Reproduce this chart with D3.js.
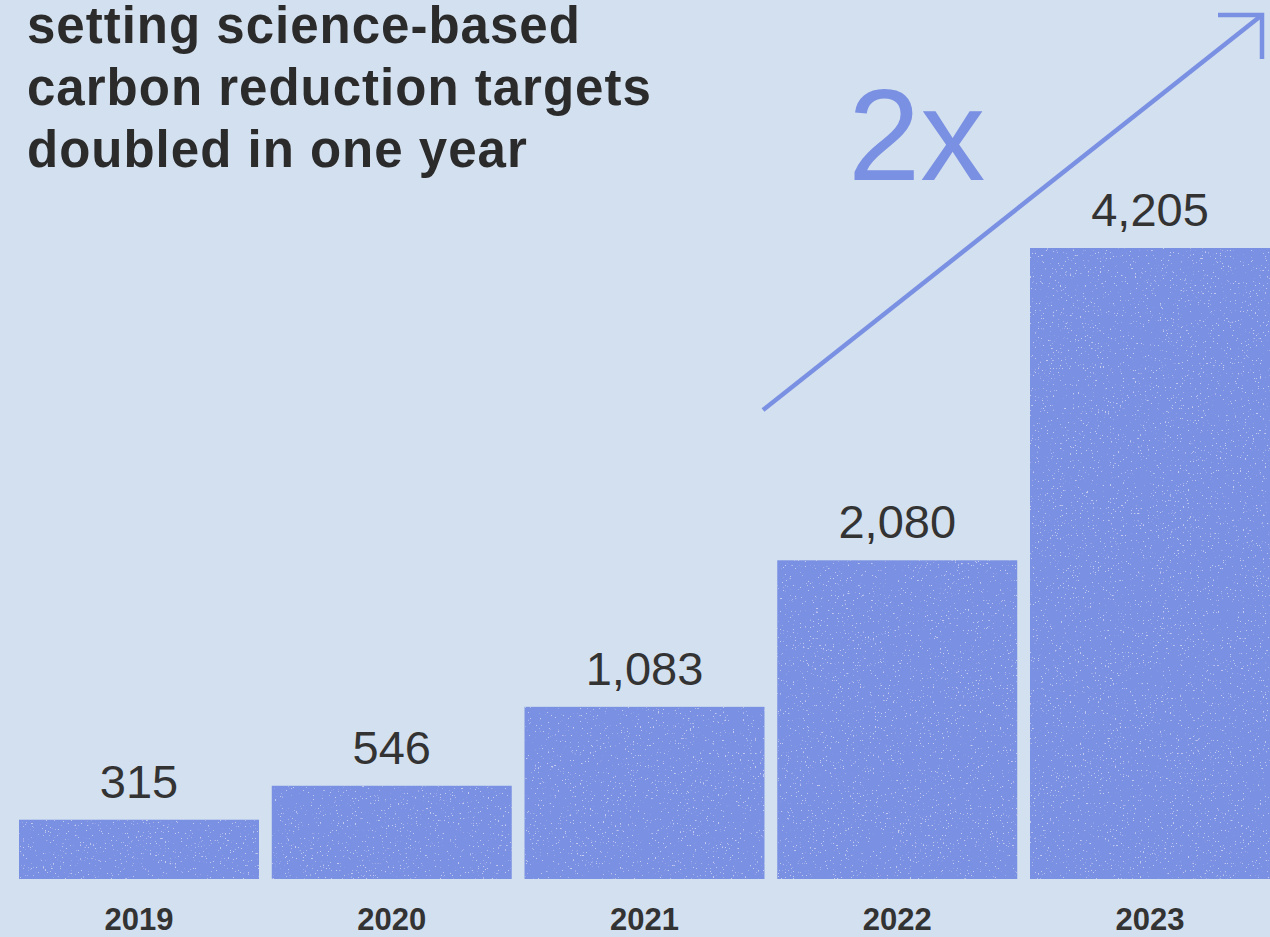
<!DOCTYPE html>
<html>
<head>
<meta charset="utf-8">
<script src="https://cdn.jsdelivr.net/npm/d3@7"></script>
<style>
  body { margin: 0; background: #d3e0ef; }
  svg { display: block; }
</style>
</head>
<body>
<script>
var width = 1270;
var height = 937;

var years = ["2019", "2020", "2021", "2022", "2023"];
var targets = [315, 546, 1083, 2080, 4205];
var titleLines = ["setting science-based", "carbon reduction targets", "doubled in one year"];

var barColor = "#7a90e2";
var baseline = 879;

var svg = d3.select("body").append("svg").attr("width", width).attr("height", height);

svg.append("rect").attr("width", width).attr("height", height).attr("fill", "#d3e0ef");

// speckle texture for bars
var defs = svg.append("defs");
var filter = defs.append("filter").attr("id", "speckle").attr("x", 0).attr("y", 0).attr("width", 1).attr("height", 1);
filter.append("feTurbulence").attr("type", "fractalNoise").attr("baseFrequency", 0.6).attr("numOctaves", 2).attr("seed", 3).attr("result", "noise");
filter.append("feColorMatrix").attr("in", "noise").attr("type", "matrix")
    .attr("values", "0 0 0 0 1  0 0 0 0 1  0 0 0 0 1  0 0 0 14 -9.8").attr("result", "dots");
filter.append("feComposite").attr("in", "dots").attr("in2", "SourceGraphic").attr("operator", "in").attr("result", "dotsIn");
filter.append("feComponentTransfer").attr("in", "dotsIn").attr("result", "soft")
    .append("feFuncA").attr("type", "linear").attr("slope", 0.45);
var merge = filter.append("feMerge");
merge.append("feMergeNode").attr("in", "SourceGraphic");
merge.append("feMergeNode").attr("in", "soft");

var x = d3.scaleBand()
    .domain(years)
    .range([19, 1270])
    .paddingInner(0.0505)
    .paddingOuter(0);

var y = d3.scaleLinear()
    .domain([0, d3.max(targets)])
    .range([866, 248]);

var data = years.map(function (yr, i) { return {year: yr, value: targets[i]}; });

svg.selectAll("rect.bar")
    .data(data)
    .enter()
    .append("rect")
    .attr("class", "bar")
    .attr("x", function (d) { return x(d.year); })
    .attr("y", function (d) { return y(d.value); })
    .attr("width", x.bandwidth())
    .attr("height", function (d) { return baseline - y(d.value); })
    .attr("fill", barColor)
    .attr("filter", "url(#speckle)");

svg.selectAll("text.value")
    .data(data)
    .enter()
    .append("text")
    .attr("class", "value")
    .attr("x", function (d) { return x(d.year) + x.bandwidth() / 2; })
    .attr("y", function (d) { return y(d.value) - 22; })
    .attr("text-anchor", "middle")
    .style("font-family", "'Liberation Sans', Arial, sans-serif")
    .style("font-size", "47px")
    .style("fill", "#333333")
    .text(function (d) { return d3.format(",")(d.value); });

// year labels
var xAxis = svg.append("g")
    .attr("transform", "translate(0," + baseline + ")")
    .call(d3.axisBottom(x).tickSize(0).tickPadding(0));
xAxis.select(".domain").remove();
xAxis.selectAll("text")
    .attr("y", 51)
    .attr("dy", 0)
    .style("font-family", "'Liberation Sans', Arial, sans-serif")
    .style("font-size", "31px")
    .style("font-weight", "bold")
    .style("fill", "#333333");

// title
svg.append("g").selectAll("text")
    .data(titleLines)
    .enter()
    .append("text")
    .attr("x", 27)
    .attr("y", function (d, i) { return 43 + i * 62; })
    .style("font-family", "'Liberation Sans', Arial, sans-serif")
    .style("font-size", "51px")
    .style("letter-spacing", "1px")
    .style("font-weight", "bold")
    .style("fill", "#2b2b2b")
    .text(function (d) { return d; });

// 2x arrow
var arrowColor = "#7a90e2";
svg.append("line")
    .attr("x1", 763).attr("y1", 410)
    .attr("x2", 1262).attr("y2", 15)
    .attr("stroke", arrowColor).attr("stroke-width", 4.5);
svg.append("path")
    .attr("d", "M1218,15 L1262,15 L1262,59")
    .attr("fill", "none")
    .attr("stroke", arrowColor).attr("stroke-width", 4.5);

svg.append("text")
    .attr("x", 848)
    .attr("y", 180)
    .style("font-family", "'Liberation Sans', Arial, sans-serif")
    .style("font-size", "130px")
    .style("fill", arrowColor)
    .text("2x");
</script>
</body>
</html>
